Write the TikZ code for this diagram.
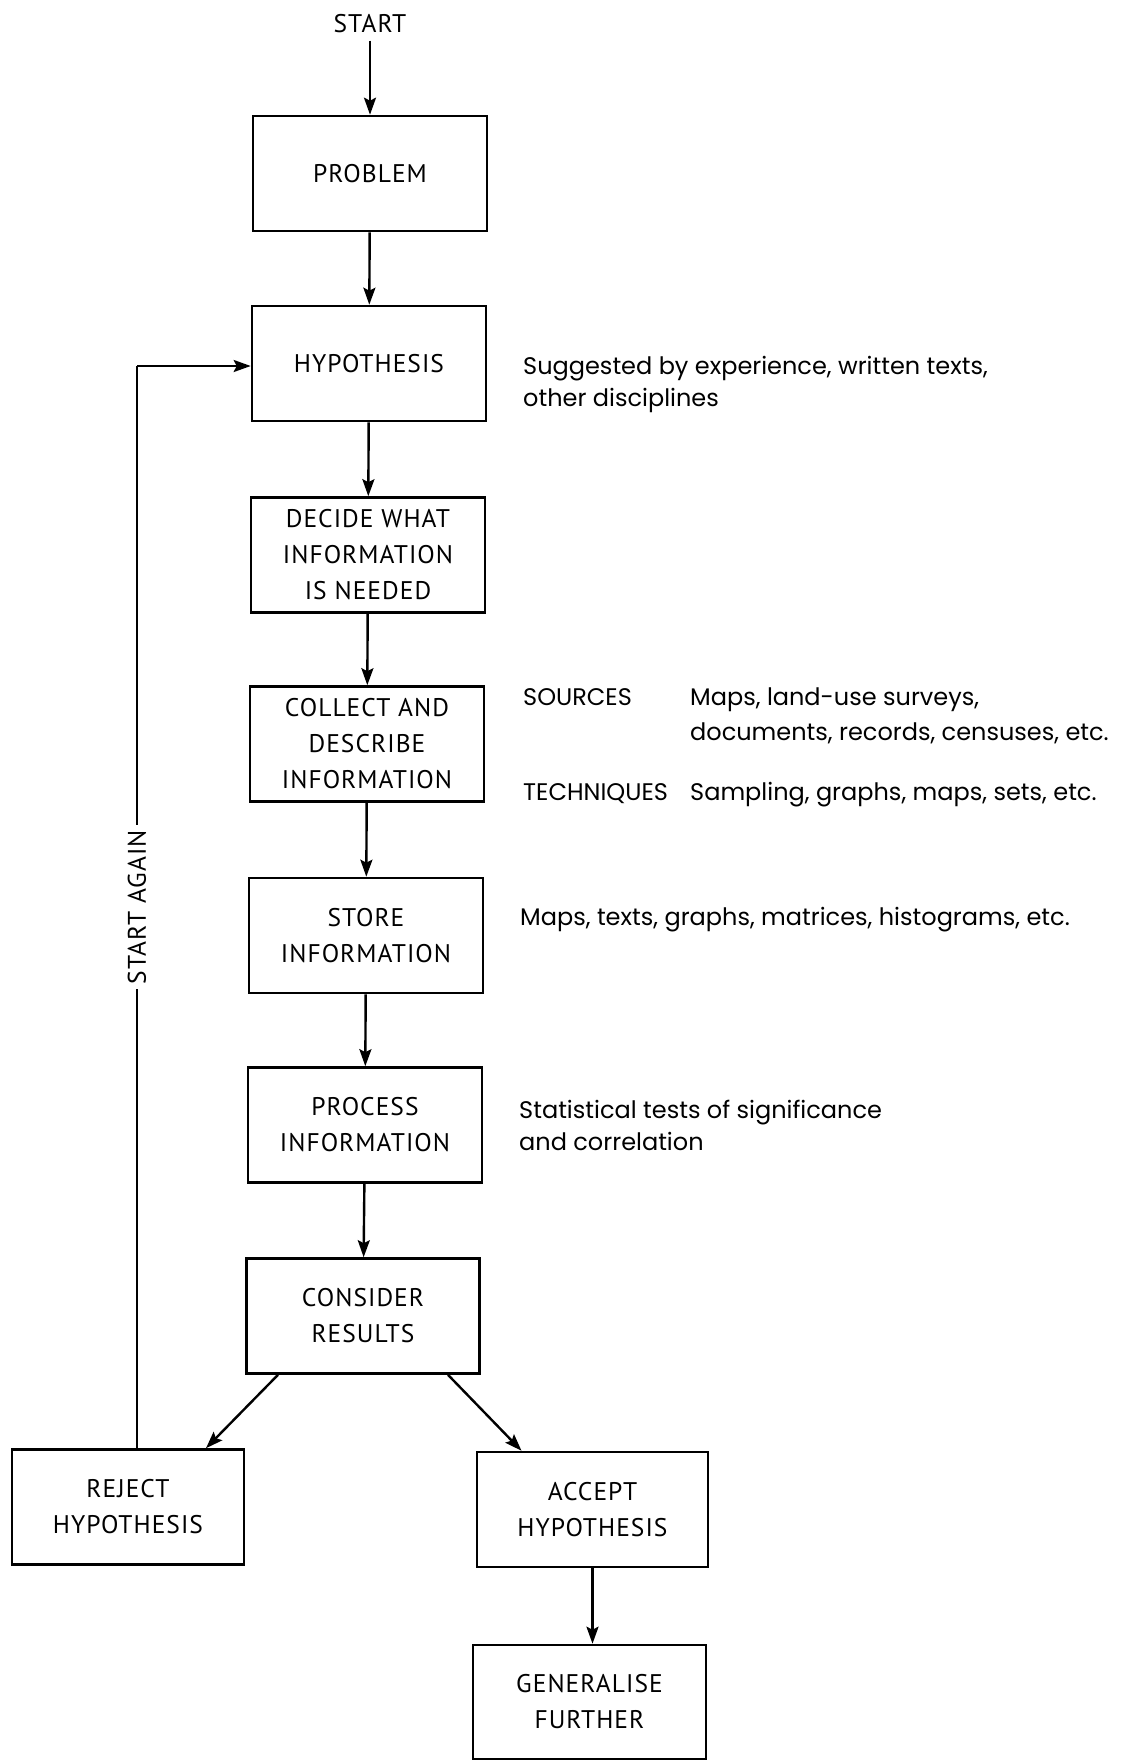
\documentclass[tikz,border=0pt]{standalone}
\usepackage{fontspec}
\setmainfont{PT Sans}
\newfontfamily\sidefont{Poppins}
\newfontfamily\bxfamily[LetterSpace=4]{PT Sans}
\newcommand\bxfont{\bxfamily\fontsize{25.5}{36}\selectfont}
\newcommand\sdfont{\sidefont\fontsize{24}{32}\selectfont}
\usetikzlibrary{arrows.meta}
\begin{document}
\begin{tikzpicture}[x=1pt,y=-1pt,
  box/.style={draw, line width=2.6pt, minimum width=234pt, minimum height=115pt,
    align=center, font=\bxfont, inner sep=0pt},
  arr/.style={line width=2.4pt, -{Stealth[length=17pt,width=12pt,inset=3pt]}},
  conn/.style={line width=2.4pt},
  side/.style={anchor=base west, font=\sdfont, inner sep=0pt}]
\useasboundingbox (0,0) rectangle (1123,1762);

\node[font=\bxfont, inner sep=0pt, anchor=base] (start) at (370,32) {START};
\node[box] (prob) at (370,173.5) {PROBLEM};
\node[box] (hyp) at (369,363.5) {HYPOTHESIS};
\node[box] (dec) at (368,555) {DECIDE WHAT\\INFORMATION\\IS NEEDED};
\node[box] (col) at (367,744) {COLLECT AND\\DESCRIBE\\INFORMATION};
\node[box] (sto) at (366,935.5) {STORE\\INFORMATION};
\node[box] (pro) at (365,1125) {PROCESS\\INFORMATION};
\node[box, minimum width=233pt] (con) at (363,1316) {CONSIDER\\RESULTS};
\node[box, minimum width=232pt] (rej) at (128,1507) {REJECT\\HYPOTHESIS};
\node[box, minimum width=231pt] (acc) at (592.5,1509.5) {ACCEPT\\HYPOTHESIS};
\node[box, minimum width=233pt, minimum height=114pt] (gen) at (589.5,1702) {GENERALISE\\FURTHER};

\draw[arr, shorten <=8pt] (start.south) -- (prob.north);
\draw[arr] (prob) -- (hyp);
\draw[arr] (hyp) -- (dec);
\draw[arr] (dec) -- (col);
\draw[arr] (col) -- (sto);
\draw[arr] (sto) -- (pro);
\draw[arr] (pro) -- (con);
\draw[arr] ([xshift=-85pt]con.south) -- ([xshift=78pt]rej.north);
\draw[arr] ([xshift=85pt]con.south) -- ([xshift=-71pt]acc.north);
\draw[arr] (acc.south) -- (acc.south |- gen.north);

\coordinate (fb) at (137,366);
\draw[conn] (rej.north -| fb) -- node[pos=0.5, fill=white, rotate=90, font=\bxfont, inner sep=5pt] (again) {START AGAIN} (fb);
\draw[arr] (fb) -- (hyp.west |- fb);

\node[side] (t1) at (523,374) {Suggested by experience, written texts,};
\node[side] (t2) at (523,406) {other disciplines};
\node[side] (src) at (523,705) {SOURCES};
\node[side] (s1) at (690,705) {Maps, land-use surveys,};
\node[side] (s2) at (690,740) {documents, records, censuses, etc.};
\node[side] (tec) at (523,800) {TECHNIQUES};
\node[side] (tc1) at (690,800) {Sampling, graphs, maps, sets, etc.};
\node[side] (m) at (520,925) {Maps, texts, graphs, matrices, histograms, etc.};
\node[side] (st1) at (519,1118) {Statistical tests of significance};
\node[side] (st2) at (519,1150) {and correlation};
\end{tikzpicture}
\end{document}
